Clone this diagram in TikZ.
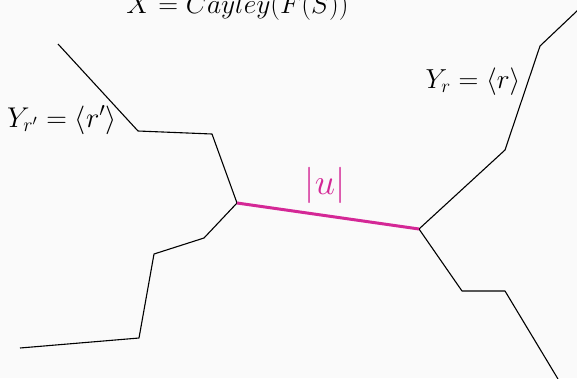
\documentclass[tikz,border=0pt]{standalone}
\usepackage{amsmath}
\definecolor{bg}{RGB}{250,250,250}
\definecolor{mag}{RGB}{212,40,150}
\begin{document}
\begin{tikzpicture}[x=1pt,y=-1pt,
  edge/.style={draw=black,line width=1.1pt,line join=round},
  uedge/.style={draw=mag,line width=3pt},
  lbl/.style={anchor=base,inner sep=0pt,scale=1.59,font=\fontsize{18}{20}\selectfont},
  ulbl/.style={anchor=base,inner sep=0pt,text=mag,scale=1.46,font=\fontsize{38}{40}\selectfont}]
\fill[bg] (0,0) rectangle (577,378);
\useasboundingbox (0,0) rectangle (577,378);
% left tree
\coordinate (a1) at (58,44);
\coordinate (a2) at (138,131);
\coordinate (a3) at (212,134);
\coordinate (v) at (237,203);
\coordinate (b1) at (204,238);
\coordinate (b2) at (154,254);
\coordinate (b3) at (139,338);
\coordinate (b4) at (20,348);
% right tree
\coordinate (w) at (419,229);
\coordinate (c1) at (505,150);
\coordinate (c2) at (540,46);
\coordinate (c3) at (578,10);
\coordinate (d1) at (462,291);
\coordinate (d2) at (505,291);
\coordinate (d3) at (558,379);
\draw[edge] (a1) -- (a2) -- (a3) -- (v) -- (b1) -- (b2) -- (b3) -- (b4);
\draw[edge] (c3) -- (c2) -- (c1) -- (w) -- (d1) -- (d2) -- (d3);
\draw[uedge] (v) -- (w);
\node[lbl] (top) at (237.5,13.5) {$X = Cayley(F(S))$};
\node[lbl,scale=1.04] (yl) at (62,127) {$Y_{r'} = \langle r'\rangle$};
\node[lbl] (yr) at (473,88) {$Y_{r} = \langle r\rangle$};
\node[ulbl] (u) at (325,194) {$|u|$};
\end{tikzpicture}
\end{document}
